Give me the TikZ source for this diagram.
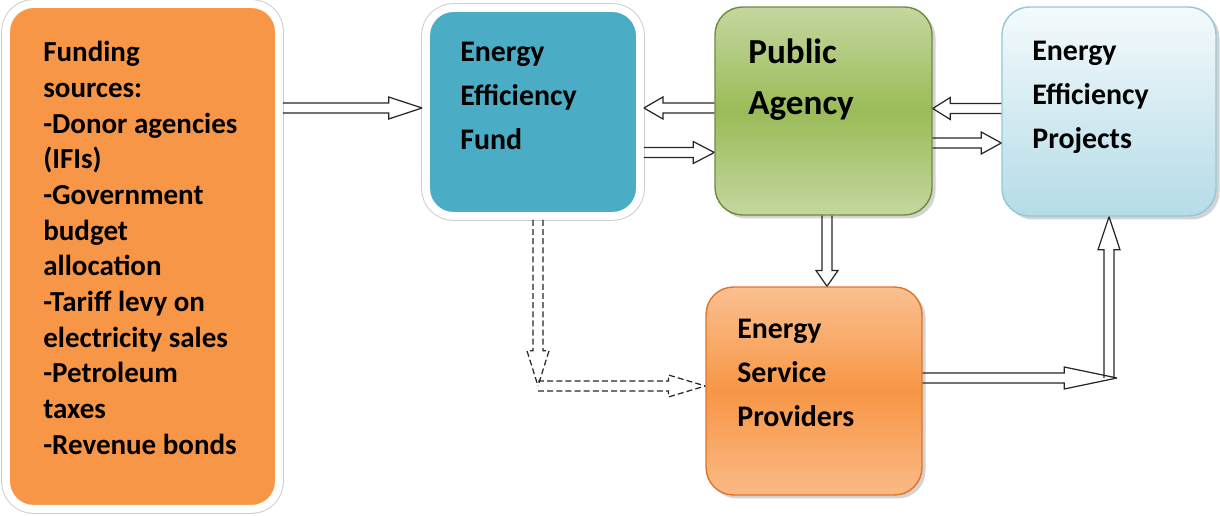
\documentclass[tikz,border=0pt]{standalone}
\usepackage{fontspec}
\setmainfont{Carlito}
\usetikzlibrary{calc,shadows,positioning}
\definecolor{srcorange}{HTML}{F79646}
\definecolor{fundblue}{HTML}{4BACC6}
\definecolor{agencylight}{HTML}{C4D79E}
\definecolor{agencymid}{HTML}{9BBB59}
\definecolor{agencyline}{HTML}{71893F}
\definecolor{projlight}{HTML}{F4FAFC}
\definecolor{projdark}{HTML}{B4DCE7}
\definecolor{projline}{HTML}{93C8D8}
\definecolor{esplight}{HTML}{FAC090}
\definecolor{espline}{HTML}{E0742A}
\tikzset{
  head len/.store in=\headlen, head len=11pt,
  hollow/.style={draw=black!85, line width=0.7pt, line join=miter,
    to path={let \p1=(\tikztostart), \p2=(\tikztotarget),
      \n1={veclen(\x2-\x1,\y2-\y1)}, \n2={atan2(\y2-\y1,\x2-\x1)} in
      (\p1) ++({\n2+90}:2.85pt) -- ++(\n2:{\n1-\headlen}) -- ++({\n2+90}:3.4pt) -- (\p2)
      (\p1) ++({\n2-90}:2.85pt) -- ++(\n2:{\n1-\headlen}) -- ++({\n2-90}:3.4pt) -- (\p2)}},
  dashedhollow/.style={hollow, dash pattern=on 3.4pt off 1.8pt},
  ringbox/.style={rectangle, rounded corners=0.55cm, draw=white, line width=4.5pt,
    drop shadow={shadow xshift=1.5pt, shadow yshift=-1.5pt, opacity=0.3},
    preaction={draw=black!20, line width=5.6pt}},
  flatbox/.style={rectangle, rounded corners=0.55cm, line width=0.8pt,
    drop shadow={shadow xshift=2pt, shadow yshift=-2pt, opacity=0.35}},
  txt/.style={anchor=north west, align=left, inner sep=0pt,
    font=\bfseries\fontsize{17}{25}\selectfont}
}
\begin{document}
\begin{tikzpicture}[x=0.02cm, y=0.02cm]
\useasboundingbox (0,0) rectangle (1220,516);
% boxes
\node[ringbox, fill=srcorange, minimum width=5.46cm, minimum height=10.1cm] (sources) at (142.5,259.5) {};
\node[ringbox, fill=fundblue, minimum width=4.28cm, minimum height=4.16cm] (fund) at (533,404) {};
\node[flatbox, draw=agencyline, top color=agencylight, bottom color=agencylight, middle color=agencymid,
  minimum width=4.34cm, minimum height=4.16cm] (agency) at (823.5,405) {};
\node[flatbox, draw=projline, top color=projlight, bottom color=projdark,
  minimum width=4.28cm, minimum height=4.18cm] (projects) at (1109,404.5) {};
\node[flatbox, draw=espline, top color=esplight, bottom color=esplight!85!srcorange, middle color=srcorange,
  minimum width=4.32cm, minimum height=4.16cm] (esp) at (814,125) {};
% texts
\node[txt, font=\bfseries\fontsize{16.5}{20.3}\selectfont] (sourcestext) at (43,475) {Funding\\sources:\\-Donor agencies\\(IFIs)\\-Government\\budget\\allocation\\-Tariff levy on\\electricity sales\\-Petroleum\\taxes\\-Revenue bonds};
\node[txt] (fundtext) at (460,474) {Energy\\Efficiency\\Fund};
\node[txt, font=\bfseries\fontsize{20}{28.5}\selectfont] (agencytext) at (748,477) {Public\\Agency};
\node[txt] (projtext) at (1032,475) {Energy\\Efficiency\\Projects};
\node[txt] (esptext) at (737,197) {Energy\\Service\\Providers};
% corners
\coordinate (dashcorner) at (538,130);
\coordinate (espcorner) at (1117,138);
% arrows
\draw[hollow, head len=19pt] (sources.east |- 0,408) to (fund.west |- 0,408);
\draw[hollow, head len=10.8pt] (agency.west |- 0,408) to (fund.east |- 0,408);
\draw[hollow, head len=12pt] (fund.east |- 0,363.5) to (agency.west |- 0,363.5);
\draw[hollow, head len=10pt] (projects.west |- 0,407.5) to (agency.east |- 0,407.5);
\draw[hollow, head len=11.4pt] (agency.east |- 0,373) to (projects.west |- 0,373);
\draw[hollow, head len=9pt] (agency.south -| 827,0) to (esp.north -| 827,0);
\draw[dashedhollow, head len=20pt] (fund.south -| dashcorner) to (dashcorner);
\draw[dashedhollow, head len=21pt] (dashcorner) to (esp.west |- dashcorner);
\draw[hollow, head len=30pt] (esp.east |- espcorner) to (espcorner);
\draw[hollow, head len=18.8pt] (projects.south |- espcorner) to (projects.south);
\end{tikzpicture}
\end{document}
